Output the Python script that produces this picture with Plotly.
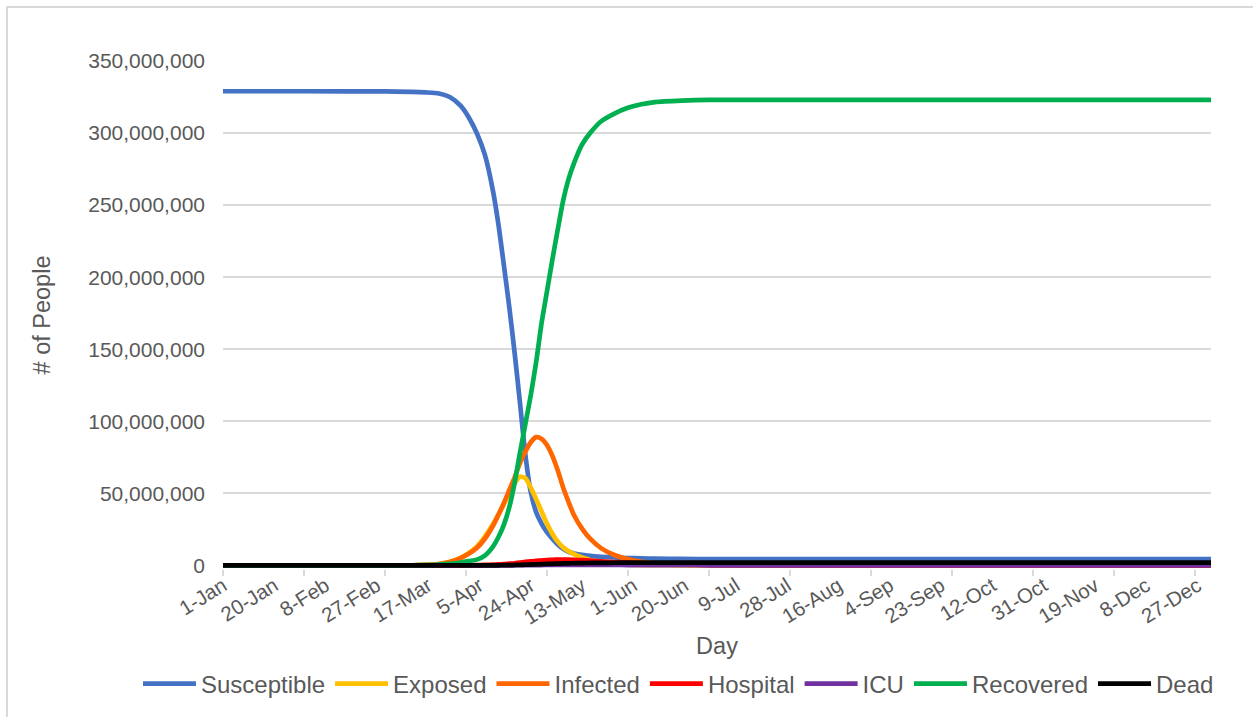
import pandas as pd
import plotly.graph_objects as go

# Model output, sampled on selected days since 1-Jan-2020 (values in millions of people)
sample_days = [0, 30, 60, 70, 75, 80, 84, 88, 91, 94,
               97, 100, 102, 104, 106, 108, 110, 112, 114, 116,
               118, 120, 122, 124, 126, 128, 130, 133, 136, 140,
               145, 150, 155, 160, 170, 180, 200, 250, 300, 366]

susceptible = [329.0, 329.0, 328.9, 328.6, 328.2, 327.4, 325.0, 319.0, 311.0, 300.0,
               285.0, 260.0, 237.0, 209.0, 180.0, 148.0, 113.0, 77.0, 51.0, 37.0,
               29.0, 23.0, 18.5, 14.5, 11.5, 9.5, 8.3, 7.3, 6.6, 6.0,
               5.5, 5.1, 4.9, 4.7, 4.5, 4.4, 4.3, 4.3, 4.3, 4.3]

exposed = [0.0, 0.0, 0.0, 0.1, 0.3, 1.0, 2.5, 5.3, 8.5, 13.0,
           20.0, 28.5, 35.0, 42.5, 50.0, 57.0, 61.5, 60.5, 54.0, 46.0,
           37.5, 29.0, 22.0, 16.5, 12.5, 9.8, 7.8, 5.5, 3.8, 2.3,
           1.2, 0.6, 0.3, 0.15, 0.05, 0.02, 0.0, 0.0, 0.0, 0.0]

infected = [0.0, 0.0, 0.0, 0.1, 0.3, 0.9, 2.3, 5.0, 8.0, 12.0,
            18.5, 27.5, 35.0, 43.0, 52.0, 61.0, 71.0, 79.0, 85.5, 89.0,
            87.8, 83.5, 76.0, 66.0, 54.0, 44.0, 35.0, 25.5, 18.5, 12.0,
            7.2, 4.2, 2.4, 1.4, 0.45, 0.15, 0.02, 0.0, 0.0, 0.0]

hospital = [0.0, 0.0, 0.0, 0.0, 0.0, 0.0, 0.0, 0.05, 0.1, 0.15,
            0.3, 0.5, 0.7, 0.9, 1.2, 1.5, 2.0, 2.4, 2.8, 3.1,
            3.4, 3.7, 3.9, 4.0, 4.1, 4.05, 3.9, 3.6, 3.3, 2.8,
            2.3, 1.9, 1.5, 1.2, 0.7, 0.4, 0.12, 0.01, 0.0, 0.0]

icu = [0.0, 0.0, 0.0, 0.0, 0.0, 0.0, 0.0, 0.0, 0.0, 0.0,
       0.0, 0.0, 0.02, 0.04, 0.06, 0.08, 0.1, 0.13, 0.17, 0.21,
       0.25, 0.3, 0.33, 0.36, 0.38, 0.39, 0.4, 0.4, 0.38, 0.35,
       0.3, 0.25, 0.2, 0.16, 0.12, 0.08, 0.04, 0.01, 0.0, 0.0]

recovered = [0.0, 0.0, 0.0, 0.1, 0.2, 0.5, 1.0, 2.0, 3.0, 4.0,
             6.8, 13.0, 19.5, 28.0, 40.0, 57.0, 78.0, 98.0, 118.0, 141.0,
             168.0, 190.0, 212.0, 233.0, 253.0, 268.0, 279.0, 292.0, 300.0, 308.0,
             313.5, 317.5, 320.0, 321.5, 322.5, 323.0, 323.0, 323.0, 323.0, 323.0]

dead = [0.0, 0.0, 0.0, 0.0, 0.0, 0.0, 0.0, 0.0, 0.0, 0.0,
        0.02, 0.05, 0.08, 0.12, 0.18, 0.26, 0.35, 0.47, 0.6, 0.72,
        0.86, 1.0, 1.12, 1.24, 1.34, 1.44, 1.52, 1.62, 1.7, 1.78,
        1.84, 1.88, 1.9, 1.92, 1.94, 1.95, 1.95, 1.95, 1.95, 1.95]

tick_labels = ["1-Jan", "20-Jan", "8-Feb", "27-Feb", "17-Mar", "5-Apr", "24-Apr",
               "13-May", "1-Jun", "20-Jun", "9-Jul", "28-Jul", "16-Aug", "4-Sep",
               "23-Sep", "12-Oct", "31-Oct", "19-Nov", "8-Dec", "27-Dec"]
tick_days = [0, 19, 38, 57, 76, 95, 114, 133, 152, 171, 190, 209, 228, 247,
             266, 285, 304, 323, 342, 361]
mark_days = [0, 30, 60, 90, 120, 150, 180, 210, 240, 270, 300, 330, 360]

start = pd.Timestamp("2020-01-01")
dates = [start + pd.Timedelta(days=d) for d in sample_days]
tick_dates = [start + pd.Timedelta(days=d) for d in tick_days]
mark_dates = [start + pd.Timedelta(days=d) for d in mark_days]
x_range = [start, start + pd.Timedelta(days=366)]

series = [
    ("Susceptible", susceptible, "#4472C4"),
    ("Exposed", exposed, "#FFC000"),
    ("Infected", infected, "#FF6600"),
    ("Hospital", hospital, "#FF0000"),
    ("ICU", icu, "#7030A0"),
    ("Recovered", recovered, "#00B050"),
    ("Dead", dead, "#000000"),
]

TEXT = "#595959"
GRID = "#D9D9D9"
FONT = "Liberation Sans, Arial, sans-serif"

# plot-area geometry in pixels, used to place the outer frame
L, R, T, B = 223, 42, 61, 147
PW, PH = 1253 - L - R, 717 - T - B

fig = go.Figure()
for name, vals, color in series:
    fig.add_trace(go.Scatter(
        x=dates, y=[v * 1e6 for v in vals], name=name, mode="lines",
        line=dict(color=color, width=4.7, shape="spline", smoothing=0.7),
    ))

# invisible helper trace so the tick-mark axis is drawn
fig.add_trace(go.Scatter(x=x_range, y=[None, None], xaxis="x2", showlegend=False,
                         hoverinfo="skip", mode="lines"))

fig.update_layout(
    width=1253, height=717,
    margin=dict(l=L, r=R, t=T, b=B),
    paper_bgcolor="white", plot_bgcolor="white",
    font=dict(family=FONT, color=TEXT),
    showlegend=True,
    legend=dict(orientation="h", x=(138 - L) / PW, xanchor="left",
                y=(PH + T - 684) / PH, yanchor="middle",
                font=dict(size=24, color=TEXT), itemwidth=53, tracegroupgap=0),
    xaxis=dict(
        type="date", range=x_range,
        tickvals=tick_dates, ticktext=tick_labels, tickangle=-32,
        tickfont=dict(size=20.5, color=TEXT),
        ticks="", showgrid=False, zeroline=False, showline=False,
        title=dict(text="Day", font=dict(size=23.5, color=TEXT), standoff=9),
    ),
    xaxis2=dict(
        type="date", range=x_range, overlaying="x", anchor="y", side="bottom",
        tickvals=mark_dates, showticklabels=False, ticks="outside",
        ticklen=6, tickwidth=1.5, tickcolor=GRID, showgrid=False,
        zeroline=False, showline=False,
    ),
    yaxis=dict(
        range=[-2.5e6, 350e6], tick0=0, dtick=50e6, tickformat=",d",
        tickfont=dict(size=21, color=TEXT),
        showgrid=True, gridcolor=GRID, gridwidth=1.5, zeroline=False,
        ticks="", ticklabelstandoff=17,
        title=dict(text="# of People", font=dict(size=23.5, color=TEXT), standoff=30),
    ),
    shapes=[dict(type="rect", xref="paper", yref="paper",
                 x0=(7 - L) / PW, x1=(1258 - L) / PW,
                 y0=(PH + T - 722) / PH, y1=(PH + T - 7) / PH,
                 line=dict(color=GRID, width=2), fillcolor="rgba(0,0,0,0)", layer="below")],
)

fig.write_html("out.html")
